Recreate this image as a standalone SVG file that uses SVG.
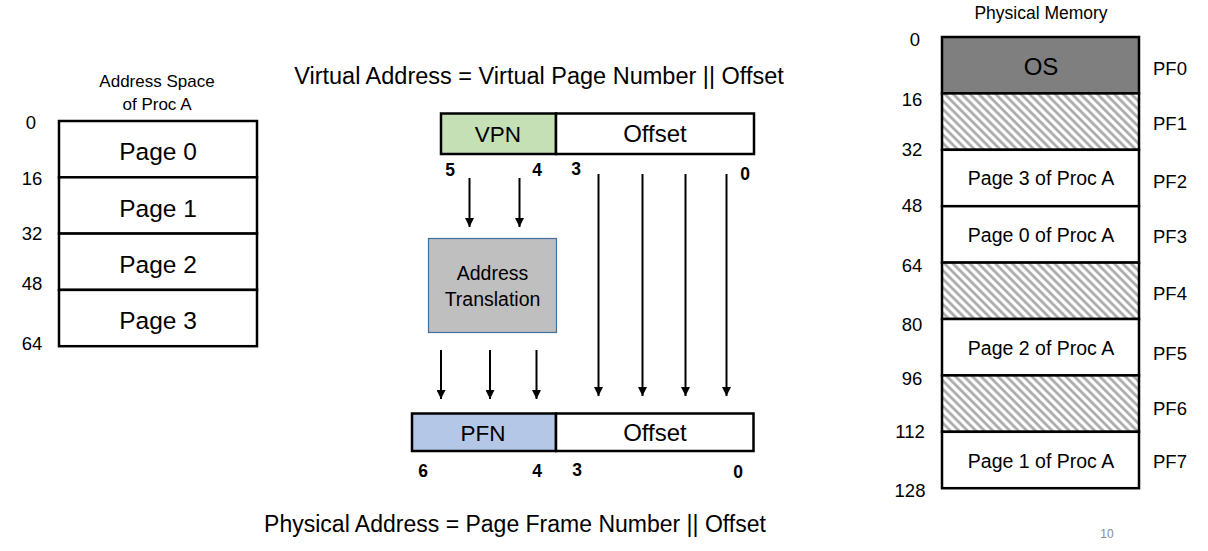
<svg xmlns="http://www.w3.org/2000/svg" width="1208" height="551" viewBox="0 0 1208 551">
<style>
text{font-family:"Liberation Sans",Arial,sans-serif;fill:#000}
.box{fill:#fff;stroke:#000;stroke-width:2.5}
.lbl{font-size:18.5px;text-anchor:middle}
.pg{font-size:24.5px;text-anchor:middle}
.pm{font-size:19.5px;text-anchor:middle}
.pf{font-size:18.5px;text-anchor:middle}
.bit{font-size:17.5px;font-weight:bold;text-anchor:middle}
.fld{font-size:22.5px;text-anchor:middle}
.off{font-size:24px;text-anchor:middle}
.arr{stroke:#000;stroke-width:2;fill:none;marker-end:url(#ah)}
</style>
<defs>
<marker id="ah" viewBox="0 0 10 10" refX="10" refY="5" markerWidth="4.5" markerHeight="4.5" markerUnits="strokeWidth" orient="auto">
<path d="M0,0 L10,5 L0,10 z" fill="#000"/>
</marker>
<pattern id="hatch" width="6" height="6" patternUnits="userSpaceOnUse" patternTransform="rotate(-45)">
<rect width="6" height="6" fill="#fff"/>
<line x1="1.5" y1="0" x2="1.5" y2="6" stroke="#a6a6a6" stroke-width="2.6"/>
</pattern>
</defs>
<rect width="1208" height="551" fill="#fff"/>

<g id="titles">
<text x="539" y="84" style="font-size:23.5px;text-anchor:middle">Virtual Address = Virtual Page Number || Offset</text>
<text x="515" y="532" style="font-size:23px;text-anchor:middle">Physical Address = Page Frame Number || Offset</text>
<text x="1107" y="538" style="font-size:12px;fill:#8c8c8c;text-anchor:middle">10</text>
</g>

<g id="address-space">
<text x="157" y="87" style="font-size:17px;text-anchor:middle">Address Space</text>
<text x="157" y="110" style="font-size:17px;text-anchor:middle">of Proc A</text>
<rect class="box" x="59" y="121" width="198" height="56.3"/>
<rect class="box" x="59" y="177.3" width="198" height="56.3"/>
<rect class="box" x="59" y="233.6" width="198" height="56.3"/>
<rect class="box" x="59" y="289.9" width="198" height="56.3"/>
<text class="pg" x="158" y="160">Page 0</text>
<text class="pg" x="158" y="217">Page 1</text>
<text class="pg" x="158" y="273">Page 2</text>
<text class="pg" x="158" y="329">Page 3</text>
<text class="lbl" x="31" y="129">0</text>
<text class="lbl" x="32" y="185">16</text>
<text class="lbl" x="32" y="240">32</text>
<text class="lbl" x="32" y="290">48</text>
<text class="lbl" x="32" y="350">64</text>
</g>

<g id="virtual-address">
<rect x="441" y="113.5" width="115" height="40.5" fill="#c5e0b4" stroke="#000" stroke-width="2.5"/>
<rect class="box" x="556" y="113.5" width="198" height="40.5"/>
<text class="fld" x="498" y="142">VPN</text>
<text class="off" x="655" y="142">Offset</text>
<text class="bit" x="450" y="176">5</text>
<text class="bit" x="537" y="176">4</text>
<text class="bit" x="576" y="175">3</text>
<text class="bit" x="745" y="180">0</text>
</g>

<g id="address-translation">
<rect x="428.5" y="238.5" width="128" height="94" fill="#bfbfbf" stroke="#41719c" stroke-width="1.2"/>
<text x="492.5" y="280" style="font-size:19.5px;text-anchor:middle">Address</text>
<text x="492.5" y="306" style="font-size:19.5px;text-anchor:middle">Translation</text>
</g>

<g id="physical-address">
<rect x="412" y="413.5" width="144" height="37.5" fill="#b4c7e7" stroke="#000" stroke-width="2.5"/>
<rect class="box" x="556" y="413.5" width="197.5" height="37.5"/>
<text class="fld" x="483" y="441">PFN</text>
<text class="off" x="655" y="441">Offset</text>
<text class="bit" x="423" y="477">6</text>
<text class="bit" x="537" y="477">4</text>
<text class="bit" x="577" y="476">3</text>
<text class="bit" x="738" y="478">0</text>
</g>

<g id="connectors">
<line class="arr" x1="469.5" y1="178" x2="469.5" y2="227"/>
<line class="arr" x1="519.5" y1="178" x2="519.5" y2="227"/>
<line class="arr" x1="441" y1="350" x2="441" y2="399"/>
<line class="arr" x1="490" y1="350" x2="490" y2="399"/>
<line class="arr" x1="536.5" y1="350" x2="536.5" y2="399"/>
<line class="arr" x1="598.5" y1="174" x2="598.5" y2="396"/>
<line class="arr" x1="642.5" y1="174" x2="642.5" y2="396"/>
<line class="arr" x1="685.5" y1="174" x2="685.5" y2="396"/>
<line class="arr" x1="726.5" y1="174" x2="726.5" y2="396"/>
</g>

<g id="physical-memory">
<text x="1041" y="19" style="font-size:17.5px;text-anchor:middle">Physical Memory</text>
<rect x="942" y="37" width="197" height="56.4" fill="#7f7f7f" stroke="#000" stroke-width="2.5"/>
<rect x="942" y="93.4" width="197" height="56.4" fill="url(#hatch)" stroke="#000" stroke-width="2.5"/>
<rect class="box" x="942" y="149.8" width="197" height="56.4"/>
<rect class="box" x="942" y="206.2" width="197" height="56.4"/>
<rect x="942" y="262.6" width="197" height="56.4" fill="url(#hatch)" stroke="#000" stroke-width="2.5"/>
<rect class="box" x="942" y="319" width="197" height="56.4"/>
<rect x="942" y="375.4" width="197" height="56.4" fill="url(#hatch)" stroke="#000" stroke-width="2.5"/>
<rect class="box" x="942" y="431.8" width="197" height="56.4"/>
<text x="1041" y="75" style="font-size:24px;text-anchor:middle">OS</text>
<text class="pm" x="1041" y="185">Page 3 of Proc A</text>
<text class="pm" x="1041" y="242">Page 0 of Proc A</text>
<text class="pm" x="1041" y="355">Page 2 of Proc A</text>
<text class="pm" x="1041" y="468">Page 1 of Proc A</text>
<text class="pf" x="1170" y="75">PF0</text>
<text class="pf" x="1170" y="130">PF1</text>
<text class="pf" x="1170" y="188">PF2</text>
<text class="pf" x="1170" y="243">PF3</text>
<text class="pf" x="1170" y="300">PF4</text>
<text class="pf" x="1170" y="360">PF5</text>
<text class="pf" x="1170" y="415">PF6</text>
<text class="pf" x="1170" y="468">PF7</text>
<text class="lbl" x="915" y="46">0</text>
<text class="lbl" x="912" y="106">16</text>
<text class="lbl" x="912" y="156">32</text>
<text class="lbl" x="912" y="212">48</text>
<text class="lbl" x="912" y="272">64</text>
<text class="lbl" x="912" y="331">80</text>
<text class="lbl" x="912" y="385">96</text>
<text class="lbl" x="910" y="438">112</text>
<text class="lbl" x="910" y="497">128</text>
</g>
</svg>
